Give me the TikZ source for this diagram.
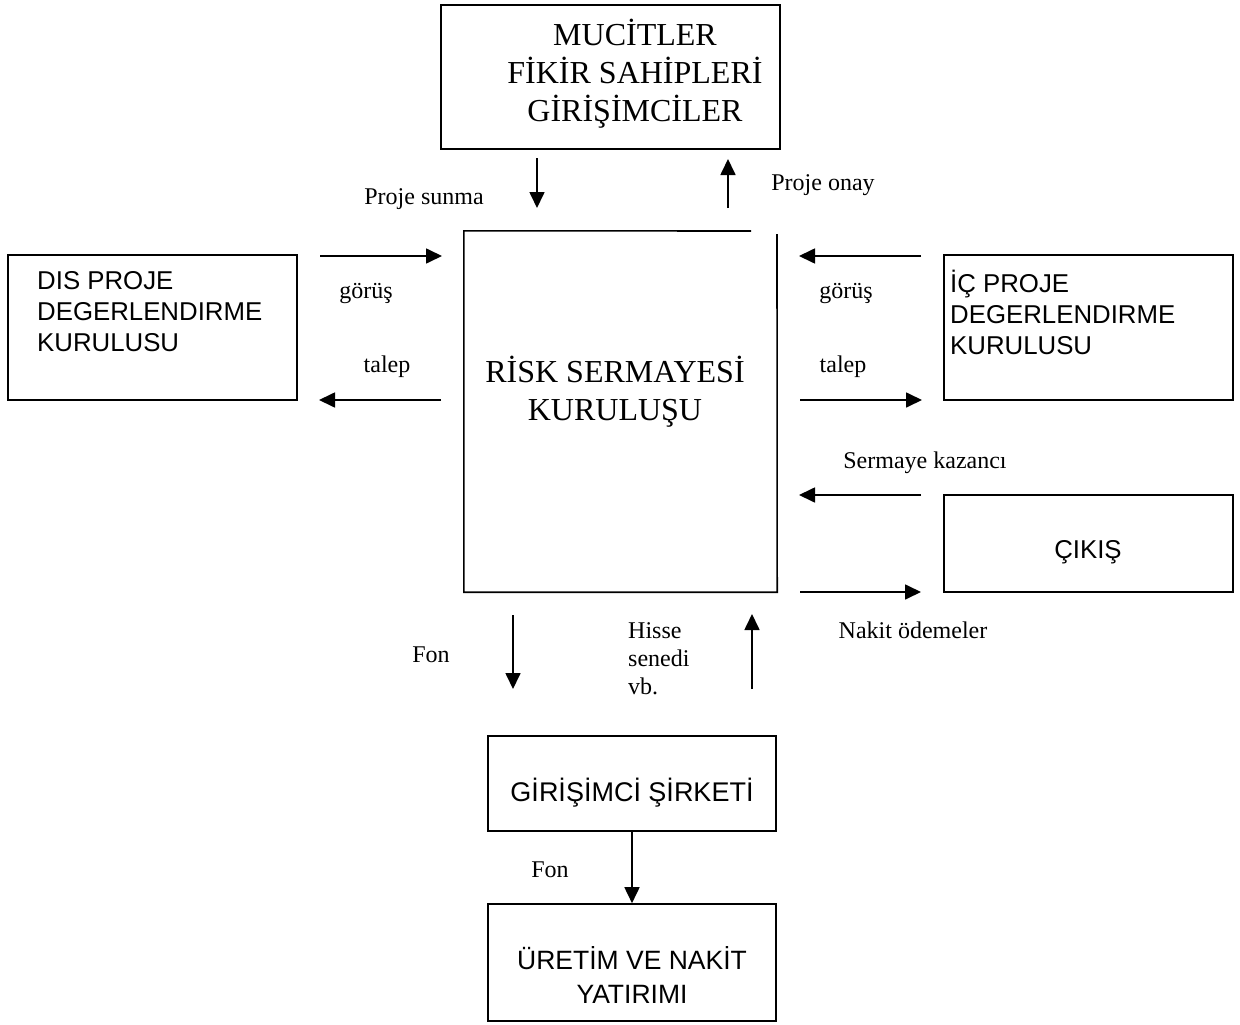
\documentclass[tikz,border=0pt]{standalone}
\usepackage{fontspec}
\setmainfont{Liberation Serif}
\newfontfamily\arial{Liberation Sans}
\usetikzlibrary{arrows.meta}
\begin{document}
\begin{tikzpicture}[x=1pt,y=-1pt,
  box/.style={draw, line width=1.6pt, inner sep=0pt},
  flow/.style={line width=1.7pt, -{Triangle[length=16pt,width=15pt]}},
  lbl/.style={inner sep=0pt, font=\fontsize{24}{28}\selectfont},
  big/.style={inner sep=0pt, align=center, font=\fontsize{32}{38}\selectfont},
  sans/.style={inner sep=0pt, font=\arial\fontsize{25.8}{31}\selectfont}]
\useasboundingbox (0,0) rectangle (1240,1025);

% boxes
\node[box, minimum width=339pt, minimum height=144pt] (top) at (610.5,77) {};
\node[big] (toptext) at (635,74) {MUCİTLER\\FİKİR SAHİPLERİ\\GİRİŞİMCİLER};

\node[inner sep=0pt, minimum width=313pt, minimum height=361pt] (risk) at (620.5,411.5) {};
\draw[line width=1.6pt, line join=miter] (751,231) -- (risk.north west) -- (risk.south west) -- (risk.south east) -- (777,234);
\node[big] (risktext) at (615,392) {RİSK SERMAYESİ\\KURULUŞU};

\node[box, minimum width=289pt, minimum height=145pt] (dis) at (152.5,327.5) {};
\node[sans, align=left, anchor=west] (distext) at (37,312) {DIS PROJE\\DEGERLENDIRME\\KURULUSU};

\node[box, minimum width=289pt, minimum height=145pt] (ic) at (1088.5,327.5) {};
\node[sans, align=left, anchor=west] (ictext) at (950,312) {İÇ PROJE\\DEGERLENDIRME\\KURULUSU};

\node[box, minimum width=289pt, minimum height=97pt] (cikis) at (1088.5,543.5) {};
\node[sans] (cikistext) at (1088,552) {ÇIKIŞ};

\node[box, minimum width=288pt, minimum height=95pt] (sirket) at (632,783.5) {};
\node[sans, font=\arial\fontsize{27}{31}\selectfont] (sirkettext) at (632,793) {GİRİŞİMCİ ŞİRKETİ};

\node[box, minimum width=288pt, minimum height=117pt] (uretim) at (632,962.5) {};
\node[sans, align=center, font=\arial\fontsize{26.5}{34}\selectfont] (uretimtext) at (632,975) {ÜRETİM VE NAKİT\\YATIRIMI};

% free arrow ends
\coordinate (a1s) at (537,158); \coordinate (a1e) at (537,208);
\coordinate (a2s) at (728,208); \coordinate (a2e) at (728,159);
\coordinate (a3s) at (320,256); \coordinate (a3e) at (442,256);
\coordinate (a4s) at (441,400); \coordinate (a4e) at (319,400);
\coordinate (a5s) at (921,256); \coordinate (a5e) at (799,256);
\coordinate (a6s) at (800,400); \coordinate (a6e) at (922,400);
\coordinate (a7s) at (921,495); \coordinate (a7e) at (799,495);
\coordinate (a8s) at (800,592); \coordinate (a8e) at (921,592);
\coordinate (a9s) at (513,615); \coordinate (a9e) at (513,689);
\coordinate (a10s) at (752,689); \coordinate (a10e) at (752,614);

% connectors
\draw[flow] (a1s) -- (a1e);
\draw[flow] (a2s) -- (a2e);
\draw[flow] (a3s) -- (a3e);
\draw[flow] (a4s) -- (a4e);
\draw[flow] (a5s) -- (a5e);
\draw[flow] (a6s) -- (a6e);
\draw[flow] (a7s) -- (a7e);
\draw[flow] (a8s) -- (a8e);
\draw[flow] (a9s) -- (a9e);
\draw[flow] (a10s) -- (a10e);
\draw[flow] (sirket.south) -- (uretim.north);

% labels
\node[lbl] (l1) at (424,199) {Proje sunma};
\node[lbl] (l2) at (823,185) {Proje onay};
\node[lbl] (l3) at (366,294) {görüş};
\node[lbl] (l4) at (387,367) {talep};
\node[lbl] (l5) at (846,294) {görüş};
\node[lbl] (l6) at (843,367) {talep};
\node[lbl] (l7) at (925,463) {Sermaye kazancı};
\node[lbl] (l8) at (913,630) {Nakit ödemeler};
\node[lbl] (l9) at (431,655) {Fon};
\node[lbl, align=left, anchor=west] (l10) at (628,659) {Hisse\\senedi\\vb.};
\node[lbl] (l11) at (550,870) {Fon};
\end{tikzpicture}
\end{document}
